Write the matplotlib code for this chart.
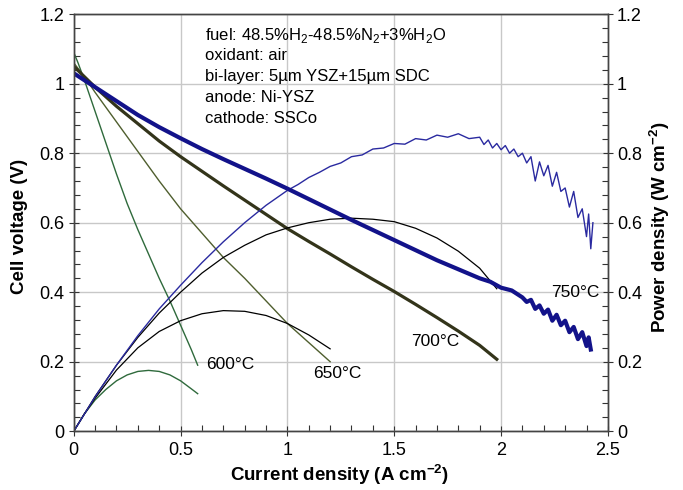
import matplotlib
matplotlib.use('Agg')
import matplotlib.pyplot as plt
from matplotlib.ticker import MultipleLocator, FormatStrFormatter

plt.rcParams['font.family'] = ['Liberation Sans', 'DejaVu Sans']
plt.rcParams['mathtext.fontset'] = 'custom'
plt.rcParams['mathtext.rm'] = 'Liberation Sans'
plt.rcParams['mathtext.bf'] = 'Liberation Sans:bold'

# 600 C
i600 = [0, 0.02, 0.05, 0.1, 0.15, 0.2, 0.25, 0.3, 0.35, 0.4, 0.45, 0.5, 0.55, 0.58]
v600 = [1.09, 1.06, 1.01, 0.92, 0.83, 0.74, 0.655, 0.58, 0.51, 0.44, 0.375, 0.305, 0.235, 0.19]
pi600 = [0, 0.05, 0.1, 0.15, 0.2, 0.25, 0.3, 0.35, 0.4, 0.45, 0.5, 0.55, 0.58]
p600 = [0, 0.05, 0.09, 0.12, 0.145, 0.162, 0.172, 0.175, 0.172, 0.162, 0.145, 0.122, 0.108]

# 650 C
i650 = [0, 0.05, 0.1, 0.2, 0.3, 0.4, 0.5, 0.6, 0.7, 0.8, 0.9, 1.0, 1.1, 1.2]
v650 = [1.06, 1.02, 0.975, 0.89, 0.805, 0.72, 0.64, 0.57, 0.5, 0.44, 0.375, 0.31, 0.255, 0.2]
p650 = [0, 0.05, 0.095, 0.176, 0.24, 0.287, 0.318, 0.338, 0.347, 0.345, 0.333, 0.31, 0.277, 0.237]

# 700 C
i700 = [0, 0.1, 0.2, 0.3, 0.4, 0.5, 0.6, 0.7, 0.8, 0.9, 1.0, 1.1, 1.2, 1.3, 1.4,
        1.5, 1.6, 1.7, 1.8, 1.9, 1.98]
v700 = [1.05, 0.99, 0.935, 0.885, 0.835, 0.79, 0.748, 0.706, 0.665, 0.624, 0.583,
        0.546, 0.51, 0.473, 0.437, 0.402, 0.365, 0.327, 0.288, 0.247, 0.207]
p700 = [0, 0.1, 0.19, 0.27, 0.34, 0.4, 0.455, 0.5, 0.535, 0.565, 0.585, 0.6, 0.61,
        0.613, 0.61, 0.603, 0.584, 0.556, 0.518, 0.469, 0.41]

# 750 C
i750 = [0, 0.1, 0.2, 0.3, 0.4, 0.5, 0.6, 0.7, 0.8, 0.9, 1.0, 1.1, 1.2, 1.3, 1.4,
        1.5, 1.6, 1.7, 1.8, 1.9, 1.95, 2.0, 2.05, 2.10, 2.12, 2.14, 2.16, 2.18, 2.20,
        2.22, 2.24, 2.26, 2.28, 2.30, 2.32, 2.34, 2.36, 2.38, 2.40, 2.41, 2.42]
v750 = [1.03, 0.99, 0.95, 0.91, 0.875, 0.843, 0.812, 0.783, 0.755, 0.727, 0.698,
        0.668, 0.638, 0.608, 0.579, 0.55, 0.521, 0.492, 0.466, 0.44, 0.43, 0.413,
        0.405, 0.385, 0.372, 0.378, 0.352, 0.362, 0.338, 0.35, 0.318, 0.335, 0.305,
        0.318, 0.285, 0.30, 0.265, 0.285, 0.245, 0.27, 0.235]
pi750 = [0, 0.1, 0.2, 0.3, 0.4, 0.5, 0.6, 0.7, 0.8, 0.9, 1.0, 1.05, 1.1, 1.15, 1.2,
         1.25, 1.3, 1.35, 1.4, 1.45, 1.5, 1.55, 1.6, 1.65, 1.7, 1.75, 1.8, 1.85,
         1.90, 1.92, 1.94, 1.96, 1.98, 2.00, 2.02, 2.04, 2.06, 2.08, 2.10, 2.12,
         2.14, 2.16, 2.18, 2.20, 2.22, 2.24, 2.26, 2.28, 2.30, 2.32, 2.34, 2.36,
         2.38, 2.40, 2.41, 2.42, 2.43]
p750 = [0, 0.099, 0.19, 0.275, 0.352, 0.42, 0.485, 0.545, 0.6, 0.65, 0.693, 0.71,
        0.73, 0.745, 0.762, 0.772, 0.79, 0.795, 0.812, 0.815, 0.828, 0.826, 0.842,
        0.838, 0.852, 0.846, 0.856, 0.842,
        0.846, 0.825, 0.838, 0.815, 0.828, 0.81, 0.822, 0.8, 0.812, 0.79, 0.8, 0.772,
        0.79, 0.72, 0.775, 0.735, 0.765, 0.705, 0.745, 0.69, 0.7, 0.645, 0.69, 0.615,
        0.64, 0.56, 0.625, 0.525, 0.6]

labels = ['600°C', '650°C', '700°C', '750°C']
label_pos = [(0.62, 0.193), (1.12, 0.167), (1.577, 0.257), (2.235, 0.398)]

info = ['fuel: 48.5%H$_2$-48.5%N$_2$+3%H$_2$O', 'oxidant: air',
        'bi-layer: 5µm YSZ+15µm SDC', 'anode: Ni-YSZ', 'cathode: SSCo']

green = '#2f6a3c'
olive = '#4f5e2e'
dark_olive = '#33341a'
navy = '#12128a'
blue = '#2a2aa0'

fig = plt.figure(figsize=(6.83, 4.90), dpi=100)
ax = fig.add_axes([0.108, 0.120, 0.782, 0.851])
ax2 = ax.twinx()

ax.plot(i600, v600, color=green, lw=1.0)
ax.plot(pi600, p600, color=green, lw=1.0)
ax.plot(i650, v650, color=olive, lw=1.0)
ax.plot(i650, p650, color='black', lw=0.9)
ax.plot(i700, v700, color=dark_olive, lw=2.3)
ax.plot(i700, p700, color='black', lw=0.9)
ax.plot(pi750, p750, color=blue, lw=1.0)
ax.plot(i750, v750, color=navy, lw=3.0)

for lab, (x, y) in zip(labels, label_pos):
    ax.text(x, y, lab, fontsize=12.5, ha='left', va='center')

for k, line in enumerate(info):
    ax.text(0.615, 1.14 - 0.06 * k, line, fontsize=12, ha='left', va='center')

for a in (ax, ax2):
    a.set_xlim(0, 2.5)
    a.set_ylim(0, 1.2)
    a.yaxis.set_major_locator(MultipleLocator(0.2))
    a.yaxis.set_minor_locator(MultipleLocator(0.04))
    a.yaxis.set_major_formatter(FormatStrFormatter('%g'))
    a.tick_params(which='major', direction='inout', length=7, width=0.8,
                  labelsize=13, colors='#333333', labelcolor='black')
    a.tick_params(which='minor', direction='in', length=4, width=0.8, colors='#333333')
ax.xaxis.set_major_locator(MultipleLocator(0.5))
ax.xaxis.set_minor_locator(MultipleLocator(0.1))
ax.xaxis.set_major_formatter(FormatStrFormatter('%g'))
ax.tick_params(axis='x', pad=4)
ax.tick_params(axis='y', pad=3)
ax2.tick_params(axis='y', pad=3)

ax.grid(True, which='major', color='#c8c8c8', lw=1.0)
ax.set_axisbelow(True)
for a in (ax, ax2):
    for s in a.spines.values():
        s.set_color('#444444')
        s.set_linewidth(1.0)

ax.set_xlabel('Current density (A cm$^{\\mathbf{-2}}$)', fontsize=13.5, fontweight='bold',
              va='center', ha='center')
ax.set_ylabel('Cell voltage (V)', fontsize=13.5, fontweight='bold', va='center', ha='center')
ax2.set_ylabel('Power density (W cm$^{\\mathbf{-2}}$)', fontsize=13.5, fontweight='bold',
               va='center', ha='center')
ax.xaxis.set_label_coords(0.498, -0.103)
ax.yaxis.set_label_coords(-0.101, 0.49)
ax2.yaxis.set_label_coords(1.097, 0.49)

fig.savefig('out.png', dpi=100)
